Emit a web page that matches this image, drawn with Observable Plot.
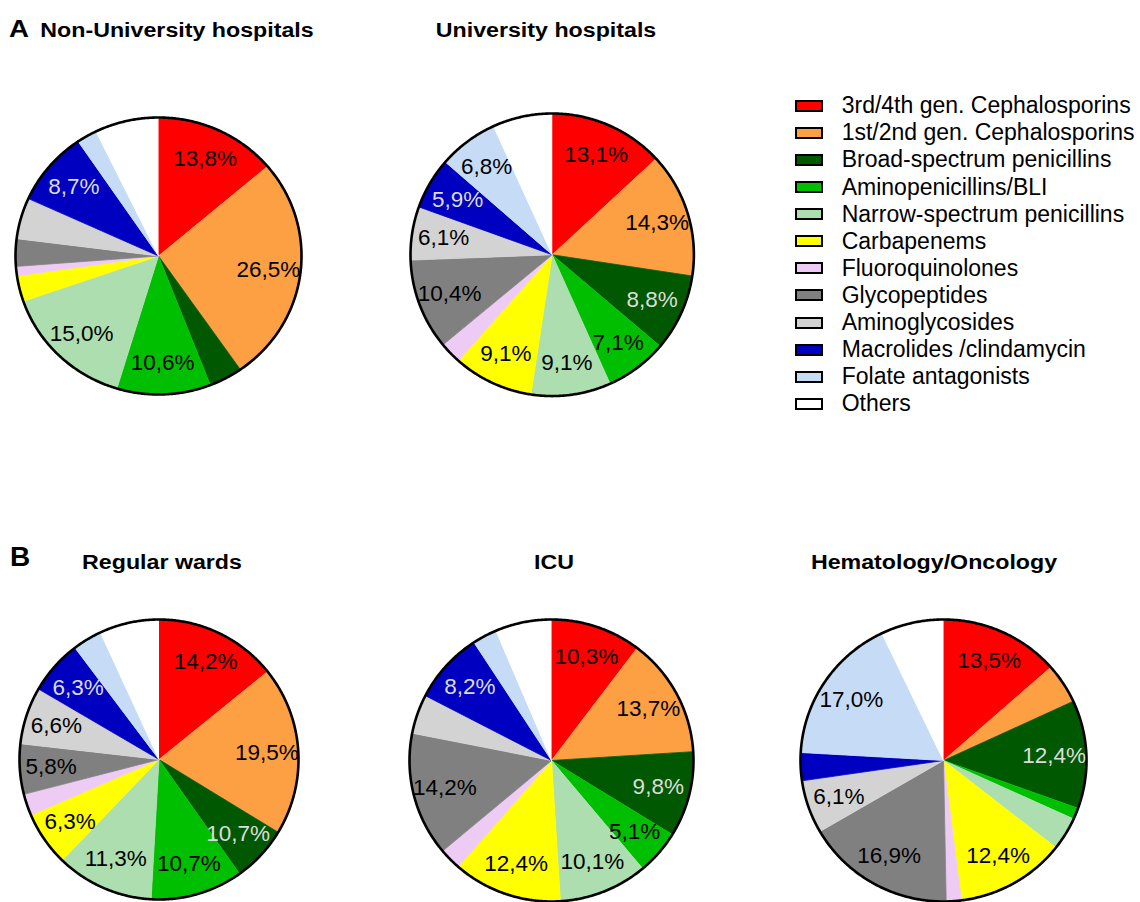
<!DOCTYPE html>
<html><head><meta charset="utf-8">
<script src="https://cdn.jsdelivr.net/npm/d3@7"></script>
<script src="https://cdn.jsdelivr.net/npm/@observablehq/plot@0.6"></script>
<style>
body{margin:0;background:#fff;}
#fig{position:relative;width:1140px;height:902px;overflow:hidden;font-family:"Liberation Sans",Arial,sans-serif;color:#000;}
.title{position:absolute;font-weight:bold;font-size:20px;line-height:20px;white-space:nowrap;transform:translateX(-50%) scaleX(1.16);}
.panel{position:absolute;font-weight:bold;white-space:nowrap;}
.sw{position:absolute;width:28px;height:12px;box-sizing:border-box;border:2px solid #000;}
.lt{position:absolute;font-size:23px;line-height:23px;white-space:nowrap;}
.pie{position:absolute;}
</style></head><body><div id="fig"></div>
<script>
// ---- data ----
const classes = ["3rd/4th gen. Cephalosporins","1st/2nd gen. Cephalosporins","Broad-spectrum penicillins","Aminopenicillins/BLI","Narrow-spectrum penicillins","Carbapenems","Fluoroquinolones","Glycopeptides","Aminoglycosides","Macrolides /clindamycin","Folate antagonists","Others"];
const colors = ["#ff0000","#fca043","#005800","#00be00","#acdeaf","#ffff00","#edcbf5","#808080","#d3d3d3","#0000c0","#c6dcf6","#ffffff"];
const labelInk = ["#000","#000","#dcdcdc","#000","#000","#000","#000","#000","#000","#dcdcdc","#000","#000"];

const nonUniversity       = [13.8, 26.5, 3.8, 10.6, 15.0, 3.0, 1.1, 3.2, 4.8, 8.7, 2.3, 7.2];
const nonUniversityLabels = ["13,8%","26,5%","","10,6%","15,0%","","","","","8,7%","",""];
const university          = [13.1, 14.3, 8.8, 7.1, 9.1, 9.1, 2.5, 10.4, 6.1, 5.9, 6.8, 6.8];
const universityLabels    = ["13,1%","14,3%","8,8%","7,1%","9,1%","9,1%","","10,4%","6,1%","5,9%","6,8%",""];
const regularWards        = [14.2, 19.5, 6.5, 10.7, 11.3, 6.3, 2.5, 5.8, 6.6, 6.3, 3.4, 6.9];
const regularWardsLabels  = ["14,2%","19,5%","10,7%","10,7%","11,3%","6,3%","","5,8%","6,6%","6,3%","",""];
const icu                 = [10.3, 13.7, 9.8, 5.1, 10.1, 12.4, 2.5, 14.2, 4.5, 8.2, 2.8, 6.4];
const icuLabels           = ["10,3%","13,7%","9,8%","5,1%","10,1%","12,4%","","14,2%","","8,2%","",""];
const hemOnc              = [13.5, 4.6, 12.4, 1.3, 3.8, 12.4, 1.7, 16.9, 6.1, 3.2, 17.0, 7.1];
const hemOncLabels        = ["13,5%","","12,4%","","","12,4%","","16,9%","6,1%","","17,0%",""];

// ---- layout (positions of the pies in the page) ----
const pies = [
  {values: nonUniversity, labels: nonUniversityLabels, cx: 158.3, cy: 255, rx: 143, ry: 138.5},
  {values: university,    labels: universityLabels,    cx: 551.7, cy: 254, rx: 141.7, ry: 141.3},
  {values: regularWards,  labels: regularWardsLabels,  cx: 158.5, cy: 759, rx: 139.5, ry: 140},
  {values: icu,           labels: icuLabels,           cx: 551,   cy: 760, rx: 142, ry: 141},
  {values: hemOnc,        labels: hemOncLabels,        cx: 943.3, cy: 760, rx: 143, ry: 141}
];
const titles = [
  {text: "Non-University hospitals", x: 176.5, base: 37},
  {text: "University hospitals", x: 545.5, base: 37},
  {text: "Regular wards", x: 161.7, base: 569},
  {text: "ICU", x: 553.7, base: 569},
  {text: "Hematology/Oncology", x: 934, base: 569}
];

const fig = document.getElementById("fig");
const step = Math.PI / 360;

function buildPie(p) {
  const arcs = d3.pie().sort(null).value(d => d)(p.values);
  const pts = [];
  const labs = [];
  arcs.forEach((a, i) => {
    const cls = classes[i];
    pts.push({cls, x: 0, y: 0});
    const n = Math.max(2, Math.ceil((a.endAngle - a.startAngle) / step));
    for (let k = 0; k <= n; k++) {
      const t = a.startAngle + (a.endAngle - a.startAngle) * k / n;
      pts.push({cls, x: Math.sin(t), y: Math.cos(t)});
    }
    if (p.labels[i]) {
      const m = (a.startAngle + a.endAngle) / 2;
      labs.push({text: p.labels[i], x: 0.775 * Math.sin(m), y: 0.775 * Math.cos(m), ink: labelInk[i]});
    }
  });
  const ring = d3.range(0, 721).map(k => ({x: Math.sin(k * step), y: Math.cos(k * step)}));
  const m = 6;
  const chart = Plot.plot({
    width: 2 * p.rx + 2 * m,
    height: 2 * p.ry + 2 * m,
    margin: m,
    x: {domain: [-1, 1], axis: null},
    y: {domain: [-1, 1], axis: null},
    color: {domain: classes, range: colors},
    style: {background: "transparent", overflow: "visible"},
    marks: [
      Plot.line(pts, {x: "x", y: "y", z: "cls", fill: "cls", stroke: "cls", strokeWidth: 0.8}),
      Plot.line(ring, {x: "x", y: "y", stroke: "#000", strokeWidth: 2.6, fill: "none"}),
      Plot.text(labs, {x: "x", y: "y", text: "text", fill: d => d.ink, fontSize: 22.5, fontFamily: "Liberation Sans, Arial, sans-serif"})
    ]
  });
  chart.classList.add("pie");
  chart.style.left = (p.cx - p.rx - m) + "px";
  chart.style.top = (p.cy - p.ry - m) + "px";
  chart.style.maxWidth = "none";
  fig.appendChild(chart);
}
pies.forEach(buildPie);

// titles
titles.forEach(t => {
  const d = document.createElement("div");
  d.className = "title";
  d.textContent = t.text;
  d.style.left = t.x + "px";
  d.style.top = (t.base - 0.8465 * 20) + "px";
  fig.appendChild(d);
});
// panel letters
[{text: "A", x: 9, base: 37, size: 23, sx: 1.2}, {text: "B", x: 10, base: 567, size: 28, sx: 1}].forEach(l => {
  const d = document.createElement("div");
  d.className = "panel";
  d.textContent = l.text;
  d.style.fontSize = l.size + "px";
  d.style.lineHeight = l.size + "px";
  d.style.left = l.x + "px";
  d.style.top = (l.base - 0.8465 * l.size) + "px";
  d.style.transformOrigin = "left top";
  d.style.transform = `scaleX(${l.sx})`;
  fig.appendChild(d);
});
// legend
classes.forEach((c, i) => {
  const cy = 105.7 + 27.1 * i;
  const s = document.createElement("div");
  s.className = "sw";
  s.style.left = "795px";
  s.style.top = (cy - 6) + "px";
  s.style.background = colors[i];
  fig.appendChild(s);
  const t = document.createElement("div");
  t.className = "lt";
  t.textContent = c;
  t.style.left = "841.7px";
  t.style.top = (cy + 8 - 0.8465 * 23) + "px";
  fig.appendChild(t);
});
</script>
</body></html>
